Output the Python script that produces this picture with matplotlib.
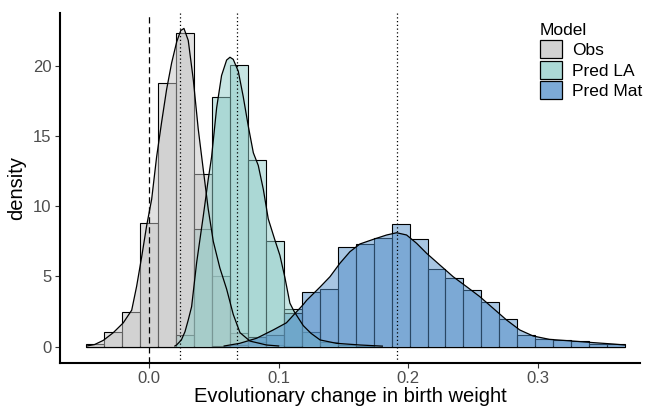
import numpy as np
import matplotlib
matplotlib.use("Agg")
import matplotlib.pyplot as plt
from matplotlib.patches import Patch

plt.rcParams['font.family'] = ['Liberation Sans', 'DejaVu Sans']

# ---------------- data ----------------
groups = ["Obs", "Pred LA", "Pred Mat"]
bin_width = 0.01386
bin_index = list(range(-3, 27))          # bin centres are index * bin_width

obs_hist = [0.2, 1.02, 2.45, 8.8, 18.8, 22.35, 12.3, 5.05, 0.95, 0.3,
            0.1, 0.05, 0, 0, 0, 0, 0, 0, 0, 0,
            0, 0, 0, 0, 0, 0, 0, 0, 0, 0]
la_hist = [0, 0, 0, 0, 0, 0.8, 8.4, 17.75, 20.03, 13.3,
           7.55, 2.7, 1.07, 0.3, 0.1, 0.05, 0, 0, 0, 0,
           0, 0, 0, 0, 0, 0, 0, 0, 0, 0]
mat_hist = [0, 0, 0, 0, 0, 0, 0, 0.05, 0.15, 0.7,
            0.83, 2.4, 3.87, 4.1, 7.12, 7.31, 7.71, 8.73, 7.64, 5.55,
            4.89, 4.03, 3.16, 1.95, 0.8, 0.55, 0.5, 0.42, 0.22, 0.21]

obs_dens_x = [-0.048, -0.042, -0.0352, -0.0275, -0.0198, -0.0133, -0.0095, -0.0056,
              -0.0018, 0.0021, 0.0059, 0.0098, 0.0136, 0.0175, 0.0214, 0.0245,
              0.027, 0.0303, 0.0342, 0.038, 0.0419, 0.0457, 0.0496, 0.0547,
              0.0599, 0.065, 0.0702, 0.0779, 0.0907, 0.1]
obs_dens_y = [0.05, 0.15, 0.45, 1.0, 1.7, 2.6, 4.3, 6.4,
              8.6, 10.5, 13.5, 16.0, 18.3, 20.2, 21.7, 22.5,
              22.65, 21.8, 19.0, 15.5, 12.6, 9.8, 7.5, 5.6,
              4.1, 2.3, 1.0, 0.4, 0.12, 0.05]

la_dens_x = [0.020, 0.0213, 0.025, 0.0278, 0.0303, 0.0329, 0.0368, 0.0419, 0.0457,
             0.0483, 0.0522, 0.056, 0.0599, 0.0625, 0.065, 0.0689, 0.0727, 0.0766,
             0.0805, 0.0843, 0.0882, 0.092, 0.0971, 0.101, 0.1049, 0.1087, 0.112,
             0.119, 0.125, 0.132, 0.1446, 0.163, 0.18]
la_dens_y = [0.05, 0.12, 0.48, 1.07, 1.9, 2.85, 6.0, 9.3, 11.9,
             13.5, 17.0, 19.3, 20.4, 20.6, 20.45, 19.6, 17.8, 15.7,
             13.8, 12.9, 11.2, 9.1, 7.6, 6.5, 4.9, 3.1, 2.5,
             1.5, 0.95, 0.48, 0.24, 0.12, 0.04]

mat_dens_x = [0.058, 0.070, 0.083, 0.096, 0.106, 0.111, 0.119, 0.1216, 0.132, 0.1396,
              0.1473, 0.155, 0.1627, 0.173, 0.1833, 0.191, 0.1987, 0.2064, 0.2141,
              0.2244, 0.2346, 0.245, 0.2552, 0.2655, 0.2758, 0.286, 0.2963, 0.309,
              0.327, 0.3426, 0.358, 0.367]
mat_dens_y = [0.05, 0.24, 0.6, 1.2, 1.7, 2.2, 3.0, 3.3, 4.25, 4.98,
              5.94, 6.76, 7.31, 7.64, 7.95, 8.11, 7.95, 7.36, 6.65,
              5.81, 4.98, 4.27, 3.56, 2.73, 1.9, 1.19, 0.76, 0.52,
              0.4, 0.29, 0.19, 0.12]

group_means = [0.0239, 0.0679, 0.1913]
zero_line = 0.0

x_ticks = [0.0, 0.1, 0.2, 0.3]
x_tick_labels = ["0.0", "0.1", "0.2", "0.3"]
y_ticks = [0, 5, 10, 15, 20]

# ---------------- style ----------------
colors = ["#C4C4C4", "#90CCC8", "#528EC8"]
alpha = 0.5

fig = plt.figure(figsize=(6.51, 4.07), dpi=100)
W, H = 651, 407
ax = fig.add_axes([60 / W, 1 - 362.7 / H, (640 - 60) / W, (362.7 - 12.7) / H])

centers = np.array(bin_index) * bin_width
hists = [obs_hist, la_hist, mat_hist]
for h, c in zip(hists, colors):
    ax.bar(centers, h, width=bin_width,
           facecolor=matplotlib.colors.to_rgba(c, alpha),
           edgecolor="black", linewidth=0.8, zorder=2)

dens = [(obs_dens_x, obs_dens_y), (la_dens_x, la_dens_y), (mat_dens_x, mat_dens_y)]
for (dx, dy), c in zip(dens, colors):
    ax.fill_between(dx, 0, dy, facecolor=matplotlib.colors.to_rgba(c, alpha),
                    edgecolor="none", zorder=3)
    ax.plot(dx, dy, color="black", linewidth=0.9, zorder=4)

ax.axvline(zero_line, color="black", linestyle=(0, (5, 3)), linewidth=0.9, zorder=5)
for m in group_means:
    ax.axvline(m, color="black", linestyle=(0, (1, 2)), linewidth=0.9, zorder=5)

ax.set_xlim(-0.0686, 0.3787)
ax.set_ylim(-1.139, 23.77)
ax.set_xticks(x_ticks)
ax.set_xticklabels(x_tick_labels)
ax.set_yticks(y_ticks)

for s in ["top", "right"]:
    ax.spines[s].set_visible(False)
for s in ["left", "bottom"]:
    ax.spines[s].set_linewidth(1.5)
    ax.spines[s].set_color("black")
ax.tick_params(axis="both", direction="out", length=3.5, width=0.8, color="#333333",
               labelsize=12, labelcolor="#4D4D4D", pad=2.5)

ax.set_xlabel("Evolutionary change in birth weight", fontsize=14.5, color="black", labelpad=1)
ax.set_ylabel("density", fontsize=14.5, color="black", labelpad=5)


def composite(c):
    r = np.array(matplotlib.colors.to_rgb(c))
    return tuple(1 - (1 - (1 - alpha) ** 2) * (1 - r))


handles = [Patch(facecolor=composite(c), edgecolor="black", linewidth=0.9) for c in colors]
leg = ax.legend(handles, groups, title="Model", loc="upper left",
                bbox_to_anchor=(540 / W, 1 - 23 / H), bbox_transform=fig.transFigure,
                frameon=False, fontsize=12.5, title_fontsize=12.5,
                handlelength=1.25, handleheight=1.25, handletextpad=0.6,
                labelspacing=0.12, borderpad=0, borderaxespad=0)
leg._legend_box.align = "left"

fig.savefig("out.png", dpi=100)
